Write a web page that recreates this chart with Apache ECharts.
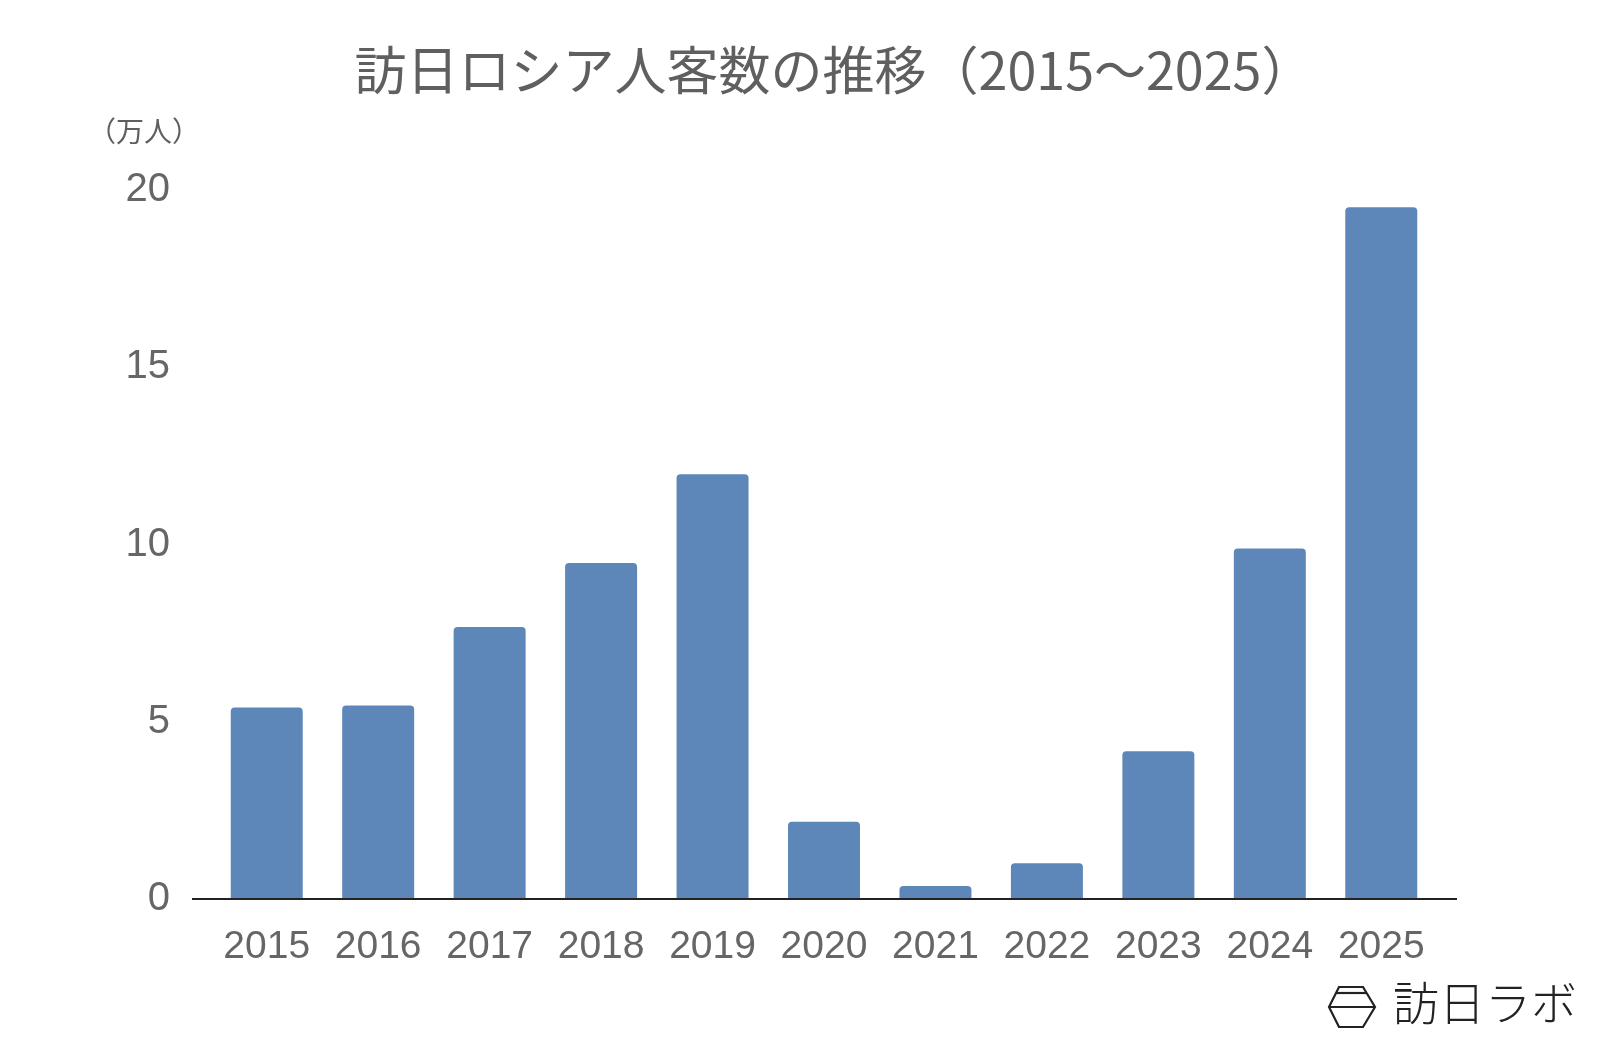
<!DOCTYPE html>
<html><head><meta charset="utf-8">
<script src="https://cdn.jsdelivr.net/npm/echarts@6/dist/echarts.min.js"></script>
<style>html,body{margin:0;padding:0;background:#fff}#c{width:1600px;height:1048px}</style>
</head><body><div id="c"></div>
<script>
const categories = ['2015','2016','2017','2018','2019','2020','2021','2022','2023','2024','2025'];
const visitors = [5.40, 5.46, 7.67, 9.48, 11.98, 2.18, 0.37, 1.01, 4.17, 9.89, 19.51];
const yTicks = [0, 5, 10, 15, 20];
const titleText = '訪日ロシア人客数の推移（2015～2025）';
const unitText = '（万人）';
const brandText = '訪日ラボ';

const font = '"Noto Sans CJK JP", "Noto Sans", sans-serif';
const numFont = '"Liberation Sans", Arial, sans-serif';
const chart = echarts.init(document.getElementById('c'), null, {renderer:'canvas'});
chart.setOption({
  backgroundColor: '#ffffff',
  animation: false,
  grid: {left: 211, right: 163, top: 190, bottom: 149},
  xAxis: {
    type: 'category', data: categories,
    axisLine: {show: false}, axisTick: {show: false},
    axisLabel: {interval: 0, fontFamily: numFont, fontSize: 39, color: '#666666', margin: 29}
  },
  yAxis: {
    type: 'value', min: yTicks[0], max: yTicks[yTicks.length-1], interval: 5,
    splitLine: {show: false}, axisLine: {show: false}, axisTick: {show: false},
    axisLabel: {fontFamily: numFont, fontSize: 40, color: '#666666', margin: 41}
  },
  series: [{
    type: 'bar', data: visitors, barWidth: 72,
    itemStyle: {color: '#5e87b9', borderRadius: [4,4,0,0]}
  }],
  graphic: [
    {type: 'text', x: 834, y: 70,
     style: {text: titleText, font: '52px ' + font, fill: '#5f5f5f', textAlign: 'center', textVerticalAlign: 'middle'}},
    {type: 'line', shape: {x1: 192, y1: 899, x2: 1457, y2: 899}, style: {stroke: '#222', lineWidth: 2}, z: 10},
    {type: 'text', left: 88, top: 117, style: {text: unitText, font: '28px ' + font, fill: '#5f5f5f'}},
    {type: 'polygon', shape: {points: [[1329,1007],[1339,987],[1363,987],[1375,1007],[1363,1027],[1339,1027]]},
     style: {fill: 'none', stroke: '#222', lineWidth: 2.2}},
    {type: 'line', shape: {x1: 1336, y1: 993, x2: 1366, y2: 993}, style: {stroke: '#222', lineWidth: 2.2}},
    {type: 'line', shape: {x1: 1329, y1: 1007, x2: 1375, y2: 1007}, style: {stroke: '#222', lineWidth: 2.2}},
    {type: 'text', left: 1393, top: 980, style: {text: brandText, font: '300 46px ' + font, fill: '#222'}}
  ]
});
</script></body></html>
